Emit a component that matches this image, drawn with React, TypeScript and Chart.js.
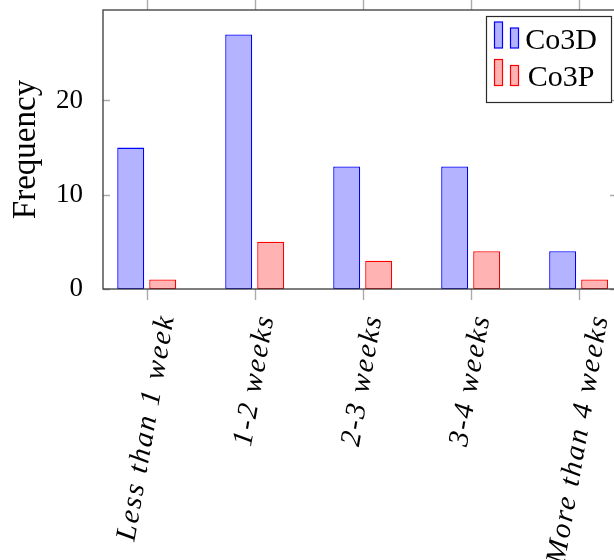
import React, { useEffect, useRef } from 'react';
import { Chart, registerables } from 'chart.js';

Chart.register(...registerables);

// Data
const categories = ['Less than 1 week', '1-2 weeks', '2-3 weeks', '3-4 weeks', 'More than 4 weeks'];
const co3dValues = [15, 27, 13, 13, 4];
const co3pValues = [1, 5, 3, 4, 1];
const seriesNames = ['Co3D', 'Co3P'];
const yTickValues = [0, 10, 20];

const SERIF = '"Liberation Serif", "Times New Roman", serif';
const CANVAS_W = 640;
const CANVAS_H = 560;

const TICK_COLOR = '#ababab';
const FRAME_COLOR = '#3a3a3a';

// Axis box with outward x ticks (top and bottom) and inward y ticks (left and right)
const framePlugin = {
  id: 'frameBox',
  afterDatasetsDraw(chart: any) {
    const { ctx, chartArea: a, scales } = chart;
    const xs = scales.x;
    const ys = scales.y;
    ctx.save();
    ctx.strokeStyle = TICK_COLOR;
    ctx.lineWidth = 1.4;
    ctx.beginPath();
    xs.ticks.forEach((t: any) => {
      const px = Math.round(xs.getPixelForValue(t.value)) + 0.5;
      ctx.moveTo(px, a.bottom);
      ctx.lineTo(px, a.bottom + 11);
      ctx.moveTo(px, a.top);
      ctx.lineTo(px, a.top - 11);
    });
    ys.ticks.forEach((t: any) => {
      const py = Math.round(ys.getPixelForValue(t.value)) + 0.5;
      ctx.moveTo(a.left, py);
      ctx.lineTo(a.left + 7, py);
      ctx.moveTo(a.right, py);
      ctx.lineTo(a.right - 7, py);
    });
    ctx.stroke();
    ctx.strokeStyle = FRAME_COLOR;
    ctx.lineWidth = 1.3;
    ctx.strokeRect(a.left, a.top, a.right - a.left, a.bottom - a.top);
    ctx.restore();
  },
};

// Rotated, centred category labels under the x axis
const xLabelPlugin = {
  id: 'rotatedCategoryLabels',
  afterDraw(chart: any) {
    const { ctx, chartArea: a, scales } = chart;
    const xs = scales.x;
    const size = 29;
    const ang = (80 * Math.PI) / 180;
    ctx.save();
    ctx.font = `italic ${size}px ${SERIF}`;
    (ctx as any).letterSpacing = '2px';
    ctx.fillStyle = '#000';
    ctx.textAlign = 'center';
    ctx.textBaseline = 'middle';
    categories.forEach((label, i) => {
      const px = xs.getPixelForValue(i);
      const w = ctx.measureText(label).width;
      const h = size * 0.72;
      const ext = w * Math.sin(ang) + h * Math.cos(ang);
      const cy = a.bottom + 24 + ext / 2;
      ctx.setTransform(1, 0, 0, 1, 0, 0);
      ctx.translate(px, cy);
      ctx.rotate(-ang);
      ctx.fillText(label, 0, 0);
    });
    ctx.restore();
  },
};

// Boxed legend in the upper right corner with paired bar icons
const legendPlugin = {
  id: 'boxedLegend',
  afterDraw(chart: any) {
    const { ctx, chartArea: a } = chart;
    const bw = 125;
    const bh = 86;
    const left = Math.round(a.right - 6 - bw) + 0.5;
    const top = Math.round(a.top + 6) + 0.5;
    ctx.save();
    ctx.fillStyle = '#ffffff';
    ctx.fillRect(left, top, bw, bh);
    ctx.strokeStyle = '#2a2a2a';
    ctx.lineWidth = 1.2;
    ctx.strokeRect(left, top, bw, bh);
    ctx.font = `30px ${SERIF}`;
    ctx.textAlign = 'center';
    ctx.textBaseline = 'alphabetic';
    chart.data.datasets.forEach((ds: any, i: number) => {
      const rowTop = top + 5.5 + i * 37.5;
      ctx.fillStyle = ds.backgroundColor;
      ctx.strokeStyle = ds.borderColor;
      ctx.lineWidth = 1.2;
      ctx.fillRect(left + 8, rowTop, 8, 26);
      ctx.strokeRect(left + 8, rowTop, 8, 26);
      ctx.fillRect(left + 24, rowTop + 6, 8, 20);
      ctx.strokeRect(left + 24, rowTop + 6, 8, 20);
      ctx.fillStyle = '#000';
      ctx.fillText(ds.label, left + 74.5, rowTop + 26.5);
    });
    ctx.restore();
  },
};

export default function App() {
  const canvasRef = useRef<HTMLCanvasElement | null>(null);

  useEffect(() => {
    document.body.style.margin = '0';
    document.body.style.overflow = 'hidden';
    const canvas = canvasRef.current;
    if (!canvas) return;

    const chart = new Chart(canvas, {
      type: 'bar',
      data: {
        datasets: [
          {
            label: seriesNames[0],
            data: co3dValues.map((v, i) => ({ x: i, y: v })),
            backgroundColor: 'rgb(179, 179, 255)',
            borderColor: 'rgb(0, 0, 255)',
            borderWidth: 1.3,
            borderSkipped: false,
          },
          {
            label: seriesNames[1],
            data: co3pValues.map((v, i) => ({ x: i, y: v })),
            backgroundColor: 'rgb(255, 179, 179)',
            borderColor: 'rgb(255, 0, 0)',
            borderWidth: 1.3,
            borderSkipped: false,
          },
        ],
      },
      options: {
        responsive: false,
        animation: false,
        devicePixelRatio: 1,
        categoryPercentage: 64 / 108,
        barPercentage: 27 / 32,
        layout: { padding: { top: 10, right: CANVAS_W - 617, left: 0, bottom: 0 } },
        plugins: {
          legend: { display: false },
          tooltip: { enabled: false },
        },
        scales: {
          x: {
            type: 'linear',
            offset: false,
            min: -0.405,
            max: 4.355,
            grid: { display: false, offset: false },
            border: { display: false },
            ticks: { display: false },
            afterBuildTicks: (s: any) => {
              s.ticks = categories.map((_, i) => ({ value: i }));
            },
            afterFit: (s: any) => {
              s.height = CANVAS_H - 289;
              s.paddingLeft = 0;
              s.paddingRight = 0;
            },
          },
          y: {
            min: 0,
            max: 29.6,
            grid: { display: false },
            border: { display: false },
            afterBuildTicks: (s: any) => {
              s.ticks = yTickValues.map((v) => ({ value: v }));
            },
            ticks: {
              color: '#000',
              padding: 12,
              font: { family: SERIF, size: 27 },
            },
            title: {
              display: true,
              text: 'Frequency',
              color: '#000',
              font: { family: SERIF, size: 33 },
              padding: { top: 7, bottom: 0 },
            },
            afterFit: (s: any) => {
              s.width = 103;
              s.paddingTop = 0;
              s.paddingBottom = 0;
            },
          },
        },
      },
      plugins: [framePlugin, xLabelPlugin, legendPlugin],
    } as any);

    return () => chart.destroy();
  }, []);

  return (
    <div style={{ width: 614, height: 560, overflow: 'hidden', position: 'relative', background: '#fff' }}>
      <canvas
        ref={canvasRef}
        width={CANVAS_W}
        height={CANVAS_H}
        style={{ display: 'block', width: CANVAS_W, height: CANVAS_H }}
      />
    </div>
  );
}
